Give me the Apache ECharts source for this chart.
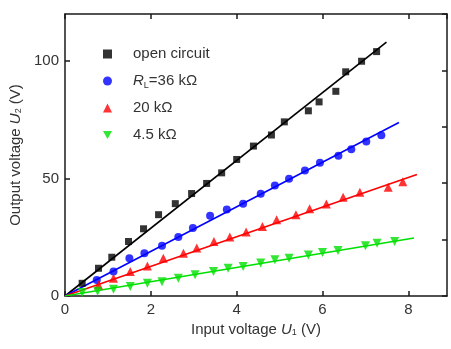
<!DOCTYPE html>
<html>
<head>
<meta charset="utf-8">
<script src="https://cdn.jsdelivr.net/npm/echarts@6/dist/echarts.min.js"></script>
<style>
html,body{margin:0;padding:0;background:#fff;}
#c{width:451px;height:349px;}
</style>
</head>
<body>
<div id="c"></div>
<script>
// ---- data ----
var seriesNames = ['open circuit', 'RL=36 kΩ', '20 kΩ', '4.5 kΩ'];
var openCircuit = [[0.40,5.4],[0.78,11.8],[1.09,16.5],[1.48,23.2],[1.83,28.6],[2.18,34.6],[2.57,39.3],[2.95,43.6],[3.30,47.9],[3.65,52.4],[4.00,58.1],[4.39,63.8],[4.81,68.5],[5.11,74.1],[5.67,78.8],[5.92,82.6],[6.31,87.1],[6.54,95.4],[6.91,99.9],[7.26,104.0]];
var load36k = [[0.74,6.8],[1.13,10.4],[1.50,16.1],[1.85,18.2],[2.26,21.4],[2.64,25.1],[2.98,28.9],[3.38,34.2],[3.77,36.8],[4.15,39.3],[4.56,43.5],[4.89,47.0],[5.22,49.9],[5.59,53.4],[5.94,56.7],[6.37,59.7],[6.67,62.4],[7.02,65.7],[7.37,68.4]];
var load20k = [[0.78,4.7],[1.13,7.6],[1.52,10.4],[1.92,12.8],[2.29,16.1],[2.76,18.2],[3.07,20.4],[3.47,23.2],[3.84,25.1],[4.22,27.2],[4.60,29.6],[4.93,32.5],[5.38,34.6],[5.70,37.1],[6.09,39.2],[6.48,42.0],[6.87,44.1],[7.53,46.3],[7.87,48.6]];
var load4k5 = [[0.40,1.5],[0.76,2.0],[1.13,2.9],[1.52,4.0],[1.92,5.4],[2.26,6.1],[2.64,7.6],[3.03,9.0],[3.46,10.4],[3.80,11.8],[4.15,12.6],[4.56,14.0],[4.89,15.4],[5.22,16.1],[5.67,17.5],[6.00,18.5],[6.36,19.4],[7.00,21.4],[7.27,22.5],[7.68,23.2]];
// fitted straight lines (start, end)
var fitOpen = [[0,0],[7.49,108]];
var fit36k = [[0,0],[7.78,73.8]];
var fit20k = [[0,0],[8.20,51.7]];
var fit4k5 = [[0,0],[8.13,24.7]];
var xTicks = [0,2,4,6,8];
var yTicks = [0,50,100];

var colors = ['#000000','#0000ff','#ff0000','#00e000'];
var font = 'Liberation Sans, Arial, sans-serif';
var invTri = 'path://M0,0 L10,0 L5,9 Z';

var chart = echarts.init(document.getElementById('c'), null, {renderer:'canvas'});
var axisLine = {show:true, onZero:false, lineStyle:{color:'#1a1a1a', width:1.5}};
var tick = {show:true, inside:true, length:5, lineStyle:{color:'#1a1a1a', width:1.5}};
var labelStyle = {color:'#333', fontSize:15, fontFamily:font};
var nameRich = {
  n:{fontSize:15, fontFamily:font, color:'#333'},
  i:{fontSize:15, fontFamily:font, color:'#333', fontStyle:'italic'},
  s:{fontSize:9, fontFamily:font, color:'#333', verticalAlign:'bottom', padding:[6,0,0,0]}
};

function scatter(name, data, symbol, size, color){
  return {name:name, type:'scatter', data:data, symbol:symbol, symbolSize:size,
    itemStyle:{color:color}, xAxisIndex:0, yAxisIndex:0, z:3};
}
function fit(data, color){
  return {type:'line', data:data, showSymbol:false, symbol:'none', lineStyle:{color:color, width:1.6},
    xAxisIndex:0, yAxisIndex:0, z:2, silent:true, animation:false};
}

chart.setOption({
  animation:false,
  backgroundColor:'#fff',
  grid:{left:65, right:4, top:14, bottom:53, containLabel:false},
  xAxis:[
    {type:'value', min:0, max:8.9, interval:2, position:'bottom',
     axisLine:axisLine, axisTick:tick, splitLine:{show:false},
     axisLabel:Object.assign({margin:6, showMaxLabel:false}, labelStyle),
     name:'Input voltage {i|U}{s|1} (V)', nameLocation:'middle', nameGap:20,
     nameTextStyle:{fontSize:15, fontFamily:font, color:'#333', rich:nameRich}},
    {type:'value', min:0, max:8.9, interval:2, position:'top',
     axisLine:axisLine, axisTick:tick, splitLine:{show:false}, axisLabel:{show:false}}
  ],
  yAxis:[
    {type:'value', min:0, max:120, interval:50, position:'left',
     axisLine:axisLine, axisTick:tick, splitLine:{show:false},
     axisLabel:Object.assign({margin:6, showMaxLabel:false}, labelStyle),
     name:'Output voltage {i|U}{s|2} (V)', nameLocation:'middle', nameGap:32,
     nameTextStyle:{fontSize:15, fontFamily:font, color:'#333', rich:nameRich}},
    {type:'value', min:0, max:120, interval:24, position:'right',
     axisLine:axisLine, axisTick:tick, splitLine:{show:false}, axisLabel:{show:false}}
  ],
  legend:{
    orient:'vertical', left:98, top:40, itemWidth:9, itemHeight:9, itemGap:9,
    data:[
      {name:seriesNames[0], icon:'rect'},
      {name:seriesNames[1], icon:'circle'},
      {name:seriesNames[2], icon:'triangle'},
      {name:seriesNames[3], icon:invTri}
    ],
    formatter:function(name){
      if(name === seriesNames[1]) return '{g|}{i|R}{s|L}{n|=36 kΩ}';
      return '{g|}{n|' + name + '}';
    },
    textStyle:{fontSize:15, fontFamily:font, color:'#333', lineHeight:18,
      rich:{
        g:{width:16},
        n:{fontSize:15, fontFamily:font, color:'#333'},
        i:{fontSize:15, fontFamily:font, color:'#333', fontStyle:'italic'},
        s:{fontSize:9, fontFamily:font, color:'#333', verticalAlign:'bottom', padding:[8,0,0,0]}
      }}
  },
  series:[
    fit(fitOpen, colors[0]), fit(fit36k, colors[1]), fit(fit20k, colors[2]), fit(fit4k5, colors[3]),
    scatter(seriesNames[0], openCircuit, 'rect', 7, colors[0]),
    scatter(seriesNames[1], load36k, 'circle', 8, colors[1]),
    scatter(seriesNames[2], load20k, 'triangle', 9, colors[2]),
    scatter(seriesNames[3], load4k5, invTri, 9, colors[3])
  ]
});
</script>
</body>
</html>
